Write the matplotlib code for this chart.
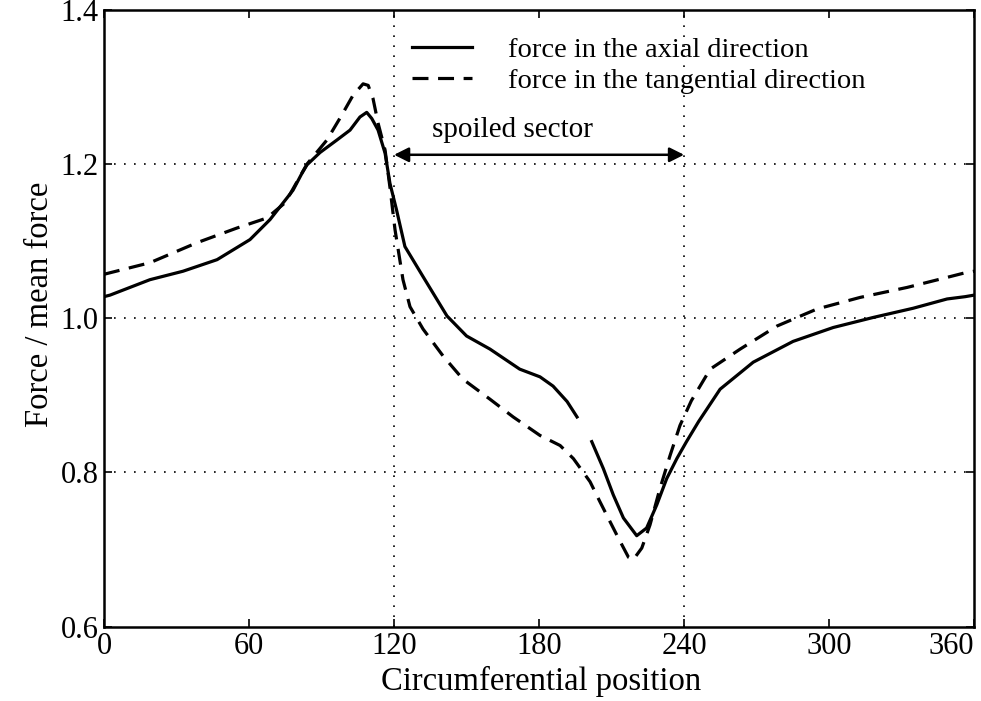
import numpy as np
import matplotlib
matplotlib.use('Agg')
import matplotlib.pyplot as plt

# Dados (posicao circunferencial em graus, forca / forca media)
pos_axial = [0, 2.5, 19, 32.7, 46.8, 60.4, 68.7, 78.2, 81.9, 84, 89.4, 96.3, 101.8, 105.9, 108.7,
             110.8, 113.4, 116.3, 118.3, 121, 124.5, 132, 141.9, 150, 159.7, 172, 180.4, 185.8,
             191.6, 195.7, 199, 201.8, 206.6, 210.7, 214.9, 220.4, 224.5, 228.7, 232.8, 237,
             241, 246, 254.9, 268.6, 285.1, 301.7, 318.2, 334.8, 348.8, 356.3, 360]
forca_axial = [1.028, 1.030, 1.050, 1.061, 1.076, 1.102, 1.128, 1.166, 1.188, 1.199, 1.215, 1.231,
               1.244, 1.261, 1.267, 1.259, 1.244, 1.214, 1.175, 1.141, 1.093, 1.054, 1.003, 0.977,
               0.960, 0.934, 0.924, 0.912, 0.892, 0.872, np.nan, 0.840, 0.805, 0.771, 0.741,
               0.718, 0.728, 0.758, 0.792, 0.818, 0.840, 0.866, 0.908, 0.943, 0.970, 0.988, 1.001,
               1.013, 1.025, 1.028, 1.030]

pos_tang = [0, 2.5, 19, 38.5, 55, 67.4, 75, 84, 92.2, 98.3, 103, 107.2, 109.3, 111.3, 113.4,
            116.3, 118.3, 120.4, 123.7, 126.6, 132, 140.3, 148.5, 159.7, 169.3, 180.4, 188.7,
            194.2, 201.1, 205.2, 209.4, 212.8, 217, 219, 222.5, 225.9, 230, 234.2, 238.3, 243,
            250.8, 263.2, 278.5, 295, 312.8, 332.3, 348.8, 356.3, 360]
forca_tang = [1.057, 1.059, 1.072, 1.098, 1.117, 1.130, 1.150, 1.200, 1.231, 1.263, 1.289, 1.304,
              1.302, 1.285, 1.253, 1.218, 1.170, 1.115, 1.050, 1.015, 0.986, 0.951, 0.921, 0.895,
              0.872, 0.848, 0.835, 0.818, 0.788, 0.762, 0.736, 0.715, 0.690, 0.687, 0.702, 0.732,
              0.779, 0.822, 0.861, 0.893, 0.934, 0.960, 0.990, 1.012, 1.027, 1.040, 1.053, 1.059,
              1.061]

xticks = [0, 60, 120, 180, 240, 300, 360]
yticks = [0.6, 0.8, 1.0, 1.2, 1.4]
setor = [120, 240]

plt.rcParams['font.family'] = ['Liberation Serif', 'DejaVu Serif']
plt.rcParams['font.size'] = 20

fig = plt.figure(figsize=(9.81, 7.01), dpi=100)
ax = fig.add_axes([0.106, 0.106, 0.887, 0.880])

# Grade pontilhada
for v in setor:
    ax.axvline(v, color='black', linestyle=(0, (1, 5)), linewidth=1.2)
for h in [0.8, 1.0, 1.2]:
    ax.axhline(h, color='black', linestyle=(0, (1, 5)), linewidth=1.2)

ax.plot(pos_axial, forca_axial, color='black', linewidth=2.3, label='force in the axial direction')
ax.plot(pos_tang, forca_tang, color='black', linewidth=2.3, linestyle=(0, (5, 3)),
        label='force in the tangential direction')

# Seta do setor perturbado
ax.annotate('', xy=(setor[0], 1.212), xytext=(setor[1], 1.212),
            arrowprops=dict(arrowstyle='<|-|>', color='black', lw=1.8, mutation_scale=22,
                            shrinkA=0, shrinkB=0))
ax.text(169, 1.244, 'spoiled sector', ha='center', va='center', fontsize=21)

ax.set_xlim(0, 360)
ax.set_ylim(0.6, 1.4)
ax.set_xticks(xticks)
ax.set_yticks(yticks)
ax.set_yticklabels(['0.6', '0.8', '1.0', '1.2', '1.4'])
ax.tick_params(direction='in', length=6, width=1.2, top=True, right=True, labelsize=22, pad=4)
ax.get_xticklabels()[-1].set_horizontalalignment('right')
for s in ax.spines.values():
    s.set_linewidth(1.8)

ax.set_xlabel('Circumferential position', fontsize=23.5)
ax.set_ylabel('Force / mean force', fontsize=23.5)
ax.xaxis.set_label_coords(0.502, -0.063)
ax.yaxis.set_label_coords(-0.056, 0.523)

ax.legend(loc='upper left', bbox_to_anchor=(0.341, 0.974), frameon=False, fontsize=20.5,
          handlelength=2.1, handletextpad=1.26, labelspacing=0.16, borderaxespad=0)

fig.savefig('out.png', dpi=100)
